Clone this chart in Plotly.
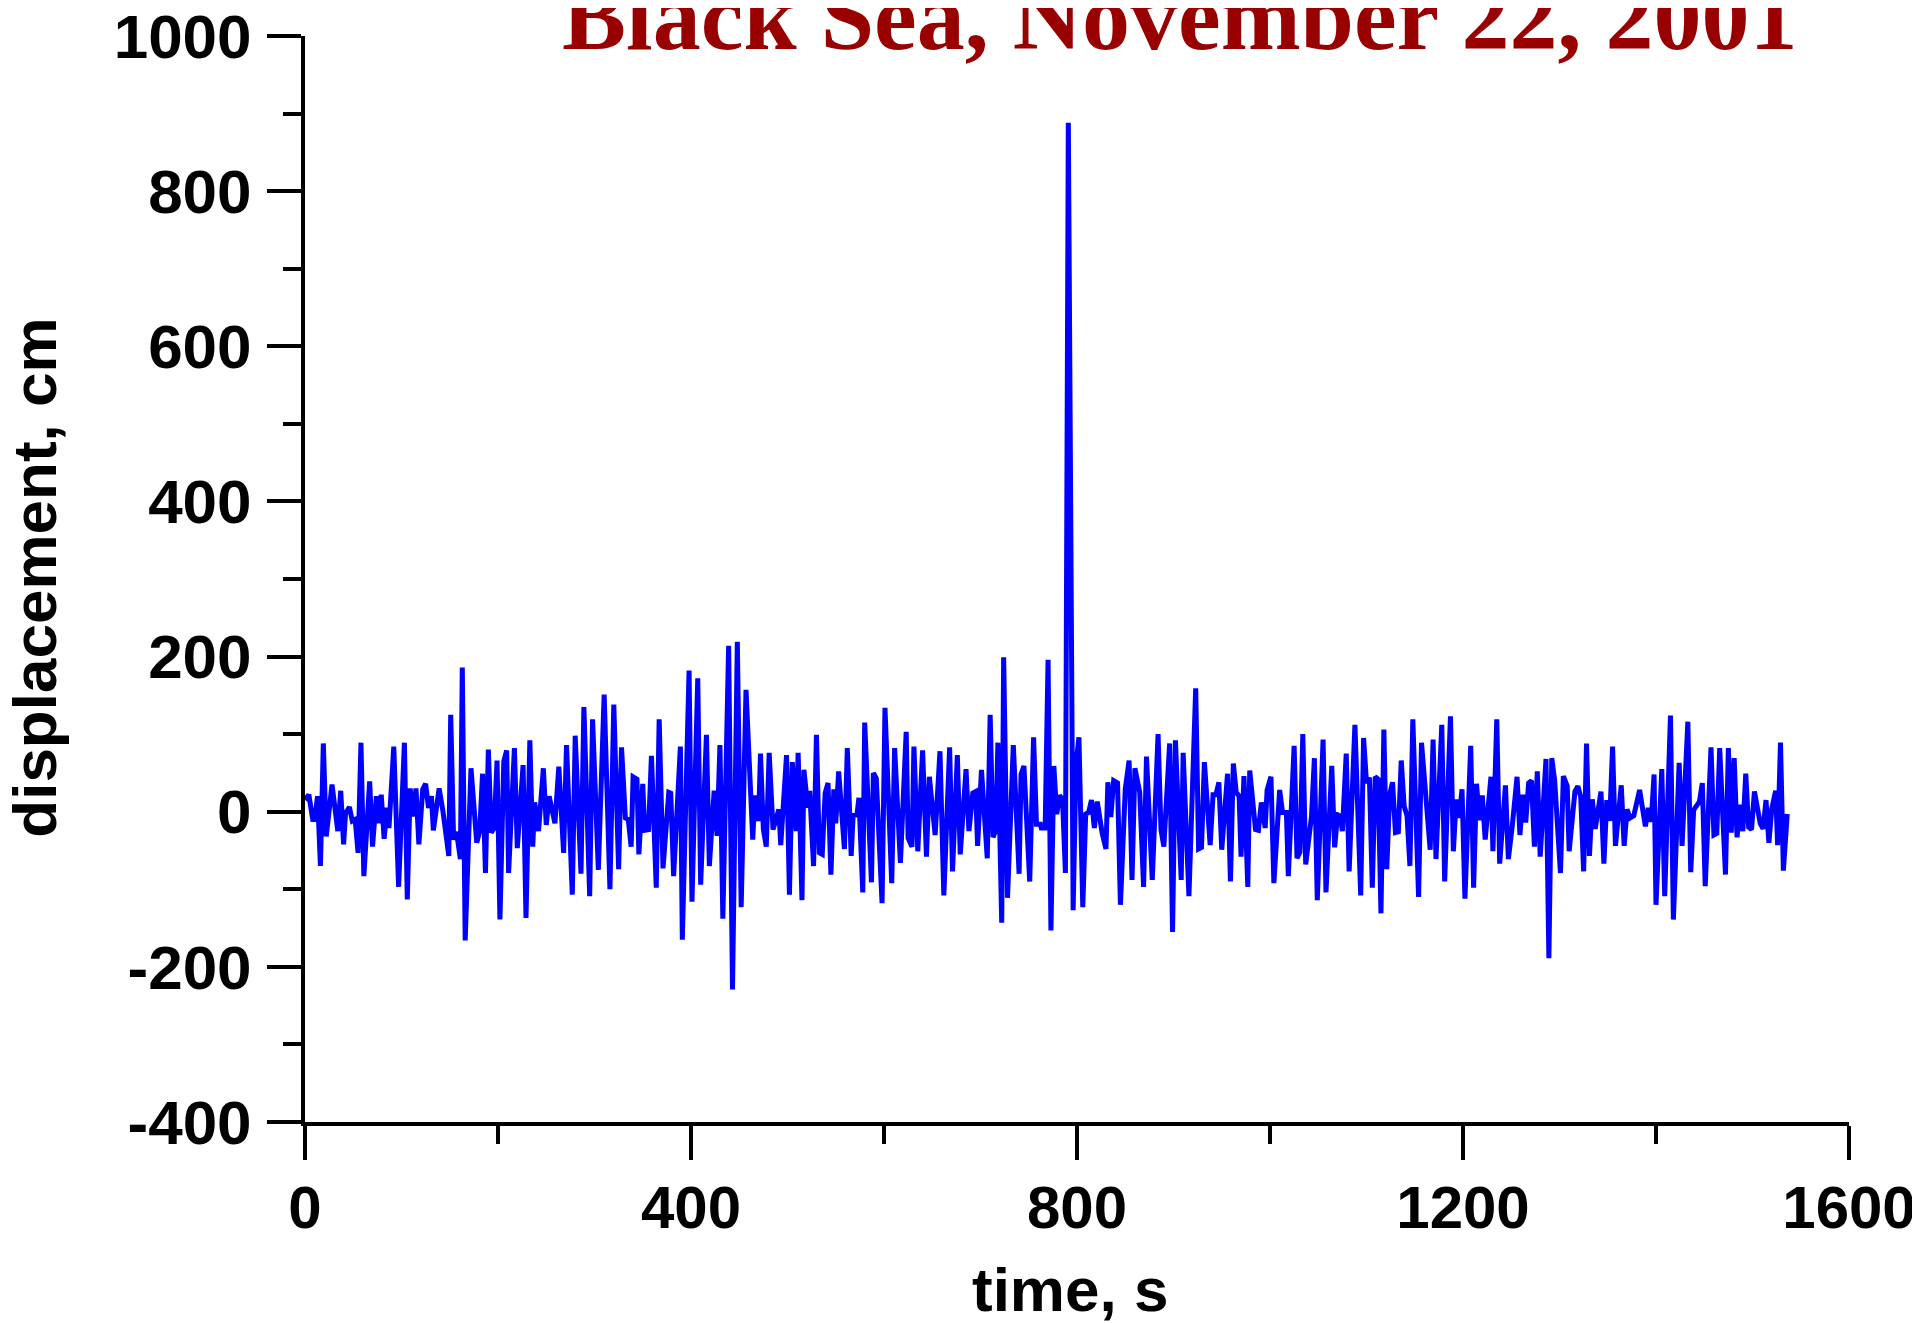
import plotly.graph_objects as go

# ---- data ----
t_s = [0, 4, 8, 10, 13, 16, 19, 22, 28, 34, 37, 40, 42, 46, 49, 52, 55, 58, 61, 67,
       70, 74, 76, 79, 82, 85, 87, 92, 97, 103, 106, 109, 112, 115, 118, 122, 125, 128, 131, 133,
       139, 143, 149, 151, 154, 157, 161, 163, 166, 172, 178, 181, 184, 187, 190, 193, 196, 199, 202, 206,
       209, 211, 217, 220, 226, 229, 233, 236, 238, 242, 247, 250, 253, 259, 263, 268, 271, 277, 280, 286,
       289, 295, 298, 304, 310, 316, 320, 325, 328, 332, 335, 338, 340, 344, 346, 350, 352, 356, 359, 364,
       367, 371, 377, 379, 382, 389, 391, 398, 401, 407, 410, 416, 419, 424, 427, 430, 433, 439, 443, 448,
       452, 457, 464, 466, 470, 472, 475, 478, 481, 485, 491, 493, 499, 502, 505, 509, 511, 515, 517, 521,
       523, 527, 530, 533, 536, 539, 542, 545, 548, 550, 553, 559, 562, 566, 568, 572, 574, 578, 580, 587,
       589, 592, 598, 601, 608, 611, 617, 623, 625, 629, 631, 635, 640, 644, 647, 653, 658, 662, 668, 671,
       676, 679, 685, 688, 692, 695, 697, 701, 707, 710, 713, 716, 718, 722, 724, 728, 734, 740, 742, 745,
       751, 755, 758, 762, 763, 767, 770, 773, 776, 779, 782, 785, 788, 791, 796, 799, 802, 806, 809, 812,
       815, 818, 821, 826, 830, 832, 835, 838, 842, 845, 850, 854, 857, 860, 865, 869, 872, 878, 884, 887,
       890, 896, 899, 902, 908, 910, 916, 923, 926, 929, 932, 938, 941, 944, 947, 950, 956, 959, 962, 965,
       968, 970, 973, 977, 979, 985, 988, 991, 995, 997, 1001, 1004, 1010, 1013, 1017, 1019, 1025, 1028, 1031, 1034,
       1037, 1043, 1046, 1049, 1055, 1058, 1064, 1067, 1070, 1073, 1075, 1079, 1082, 1088, 1094, 1097, 1100, 1103, 1106, 1109,
       1112, 1115, 1118, 1121, 1124, 1127, 1130, 1133, 1136, 1139, 1142, 1145, 1148, 1154, 1157, 1161, 1166, 1169, 1172, 1178,
       1181, 1187, 1190, 1193, 1196, 1199, 1202, 1208, 1211, 1214, 1217, 1220, 1223, 1229, 1231, 1235, 1238, 1244, 1247, 1251,
       1256, 1259, 1262, 1265, 1268, 1271, 1274, 1277, 1280, 1286, 1289, 1292, 1295, 1301, 1304, 1308, 1310, 1316, 1319, 1322,
       1325, 1328, 1331, 1334, 1337, 1343, 1346, 1349, 1352, 1355, 1358, 1364, 1367, 1370, 1373, 1377, 1383, 1389, 1392, 1395,
       1398, 1400, 1406, 1409, 1415, 1418, 1424, 1427, 1433, 1436, 1439, 1445, 1448, 1451, 1457, 1460, 1463, 1466, 1472, 1475,
       1478, 1481, 1484, 1487, 1490, 1493, 1496, 1499, 1502, 1508, 1511, 1514, 1517, 1520, 1524, 1526, 1529, 1532, 1536]

disp_cm = [15, 22, -10, -10, 20, -70, 88, -32, 35, -25, 27, -42, -2, 6, -12, -10, -53, 89, -83, 39,
           -45, 20, -15, 22, -35, 5, -21, 84, -97, 89, -113, 30, -6, 30, -42, 29, 36, 5, 20, -24,
           30, 0, -57, 125, -36, -26, -61, 186, -166, 56, -40, -25, 49, -79, 80, -27, -21, 66, -139, 65,
           79, -79, 82, -47, 60, -137, 92, -45, 12, -25, 56, -17, 20, -15, 58, -53, 86, -107, 98, -80,
           135, -109, 119, -75, 151, -100, 138, -74, 83, -8, -10, -45, 45, 42, -55, 36, -24, -23, 72, -98,
           119, -73, 25, 24, -83, 84, -165, 182, -116, 172, -94, 99, -70, 27, -31, 86, -138, 214, -229, 219,
           -123, 157, -36, 21, -12, 75, -23, -45, 76, -23, 3, -43, 73, -107, 64, -25, 76, -114, 54, 5,
           27, -70, 99, -53, -55, 24, 37, -81, 29, -15, 52, -48, 82, -57, -5, -4, 18, -104, 115, -91,
           50, 43, -118, 134, -92, 82, -66, 103, -34, -45, 84, -51, 79, -58, 45, -30, 78, -108, 83, -77,
           73, -55, 55, -25, 24, 26, -44, 54, -60, 125, -33, -23, 89, -143, 199, -111, 86, -80, 48, 59,
           -90, 96, -16, -16, -21, -21, 196, -153, 59, -3, 21, 16, -79, 888, -127, 62, 96, -123, -3, -1,
           15, -21, 13, -27, -48, 38, -7, 40, 37, -120, 29, 66, -88, 56, 25, -97, 71, -88, 100, -23,
           -45, 88, -155, 92, -88, 76, -109, 159, -48, -46, 64, -43, 22, 22, 38, -49, 49, -90, 62, 25,
           20, -58, 46, -97, 53, -23, -24, 12, -21, 28, 45, -92, 28, -1, -1, -83, 85, -60, -52, 100,
           -68, -6, 69, -114, 93, -104, 59, -46, -4, -6, -25, 75, -77, 112, -108, 95, 37, 44, -98, 45,
           42, -131, 106, -74, 22, 38, -27, -26, 66, 7, -5, -70, 119, -110, 89, 20, -49, 93, -61, 112,
           -90, 123, -51, 16, -8, 29, -112, 85, -98, 36, -11, 21, -36, 45, -51, 119, -67, 34, -61, -19,
           45, -30, 22, -14, 37, 40, -45, 52, -58, 68, -189, 69, 40, -79, 46, 33, -51, 26, 33, 19,
           -77, 88, -57, 16, -22, 26, -67, 15, -12, 84, -44, 34, -44, 3, -8, -5, 28, -19, 5, -13,
           48, -120, 55, -109, 124, -139, 63, -44, 116, -78, 2, 13, 37, -96, 83, -30, -28, 82, -81, 82,
           -27, 69, -33, 9, -25, 49, -20, -23, 26, -15, -22, 15, -40, 4, 27, -43, 89, -76, -3]

x_tick_vals = [0, 400, 800, 1200, 1600]
x_tick_text = ["0", "400", "800", "1200", "1600"]
x_minor_vals = [200, 600, 1000, 1400]
y_tick_vals = [-400, -200, 0, 200, 400, 600, 800, 1000]
y_tick_text = ["-400", "-200", "0", "200", "400", "600", "800", "1000"]
y_minor_vals = [-300, -100, 100, 300, 500, 700, 900]

title_text = "Black Sea, November 22, 2001"
x_title = "time, s"
y_title = "displacement, cm"

x_tick_font = dict(family="Liberation Sans, Arial", size=60, color="black", weight="bold")
y_tick_font = dict(family="Liberation Sans, Arial", size=62, color="black", weight="bold")
label_font = dict(family="Liberation Sans, Arial", size=62, color="black", weight="bold")

fig = go.Figure()
fig.add_trace(go.Scatter(x=t_s, y=disp_cm, mode="lines",
                         line=dict(color="#0000FF", width=5), hoverinfo="x+y"))

# page body has an 8px margin, so the figure is sized to fit the 1920x1323 window
fig.update_layout(
    width=1912, height=1315,
    margin=dict(l=297, r=71, t=28, b=201, autoexpand=False),
    plot_bgcolor="white", paper_bgcolor="white",
    showlegend=False,
)

fig.update_xaxes(
    range=[0, 1600], tickmode="array", tickvals=x_tick_vals, ticktext=x_tick_text,
    ticks="outside", ticklen=34, tickwidth=3.5, tickcolor="black",
    showline=True, linewidth=4, linecolor="black", mirror=False,
    showgrid=False, zeroline=False, tickfont=x_tick_font, ticklabelstandoff=-4,
    ticklabeloverflow="allow",
    minor=dict(tickmode="array", tickvals=x_minor_vals, ticks="outside",
               ticklen=18, tickwidth=3.5, tickcolor="black", showgrid=False),
    automargin=False,
)
fig.update_yaxes(
    range=[-400, 1000], tickmode="array", tickvals=y_tick_vals, ticktext=y_tick_text,
    ticks="outside", ticklen=34, tickwidth=3.5, tickcolor="black",
    showline=True, linewidth=4, linecolor="black", mirror=False,
    showgrid=False, zeroline=False, tickfont=y_tick_font, ticklabelstandoff=3,
    ticklabeloverflow="allow",
    minor=dict(tickmode="array", tickvals=y_minor_vals, ticks="outside",
               ticklen=18, tickwidth=3.5, tickcolor="black", showgrid=False),
    automargin=False,
)

fig.add_annotation(text=title_text, xref="paper", yref="paper", x=0.5667, y=1.018,
                   xanchor="center", yanchor="middle", showarrow=False,
                   font=dict(family="Liberation Serif", size=96, color="#990000", weight="bold"))
fig.add_annotation(text=x_title, xref="paper", yref="paper", x=0.4955, y=-0.154,
                   xanchor="center", yanchor="middle", showarrow=False, font=label_font)
fig.add_annotation(text=y_title, xref="paper", yref="paper", x=-0.175, y=0.501,
                   xanchor="center", yanchor="middle", textangle=-90, showarrow=False,
                   font=label_font)

fig.write_html("out.html")
